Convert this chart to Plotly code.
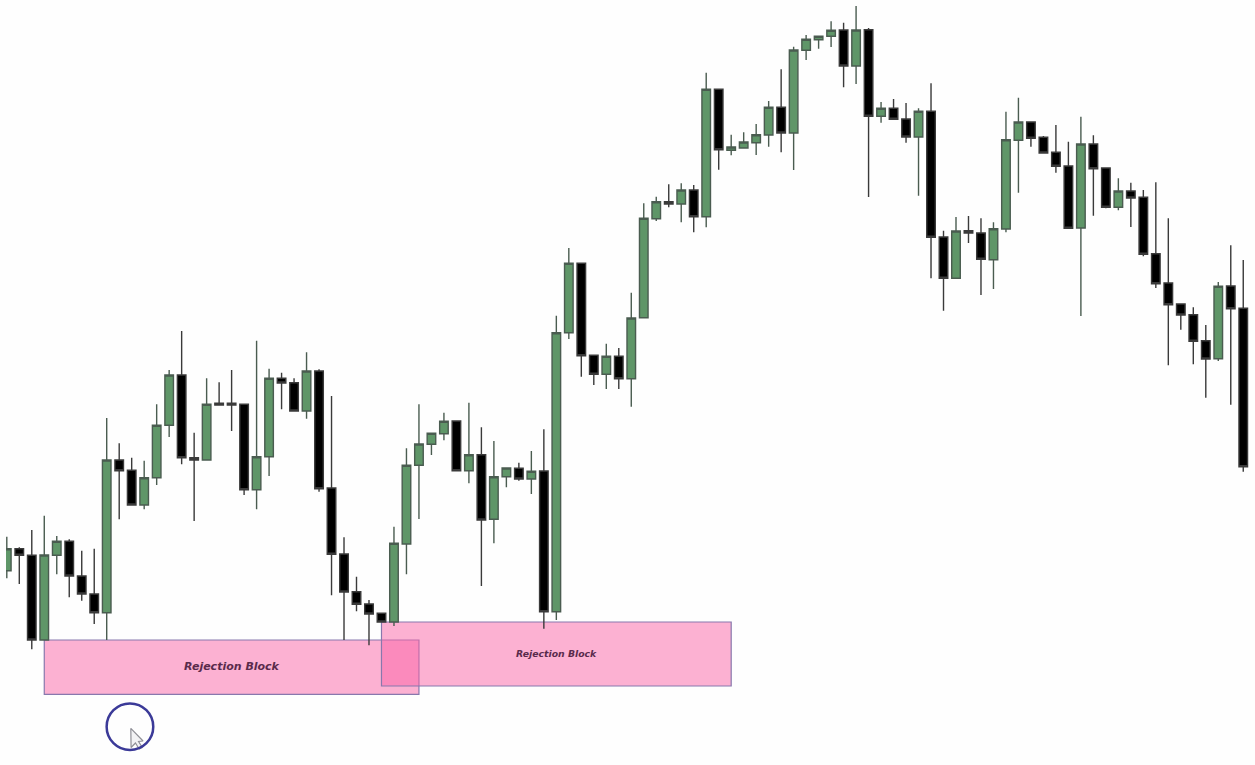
import numpy as np
import plotly.graph_objects as go

# Values, as rows counted from the top of the image; converted to price below.
candle_index = list(range(100))
high_rows = [536.7,547.3,530,515.7,536,539.3,550.7,548.7,418,443.3,457.7,460.7,404.3,370,331,432.7,378.3,382.3,370,404.3,
             340.7,368.7,372.7,378.3,352.3,369.3,396,537.3,576.7,600,613.3,526.7,448.3,404.3,432.7,412.7,421,402.7,427.3,441,
             467.7,462.7,451,429.3,315.7,248,263.3,355.3,343.7,348,292.7,203.3,196.7,184.3,183.3,185,72.7,89.3,134.7,132.3,
             124,101,69.3,46.7,35,35.7,21.3,22.7,4,28,102,99,103,108.3,83.3,230.7,217,216,218.3,222.3,
             111.7,97.7,121.3,136,125,141.7,116.7,135.3,168,178.3,182.7,190,182.3,218.3,304,307.3,325,282,245.3,260]
top_rows = [548.7,548.7,555.3,555,541.3,541.3,576,594,460,460,470.3,477.7,425.3,375,375,457.7,404.3,403.3,403.3,404.3,
            456.7,378.3,378.3,382.7,371,371,488,554,591.7,604,613.3,543.3,465.3,444,433.3,421.3,421,454.7,454.7,476.7,
            468,468.3,471.3,471,332.7,263.3,263.3,355.3,356.3,356.3,318,218.3,201.7,201.7,190,190,89.3,89.3,147,142,
            134.7,107.3,107.3,50,39.3,36.3,30.3,30,30,29.7,108.3,108.3,119,111.3,111.3,237,231,230.7,233,228.7,
            139.7,122,122,137.3,152.3,166,144,144,168,191,191,197.3,253.7,283,304,314.7,340.7,286.3,286,308.3]
bottom_rows = [570.7,555.3,640,640,555.3,576,594,612.7,612.7,470.7,505,505,477.7,425.3,457.7,460,460,405,405,489.7,
               489.7,456.7,383,411,411,488.7,554.3,592,604.3,614,622,622,544,465.3,444.3,433.7,470.7,470.7,520,519.3,
               476.7,479,479,611.7,611.7,332.7,355.7,374.3,374.3,378.7,378.7,317.7,218.7,204,204,216.7,216.7,149.7,150.3,148,
               142.7,135,133,133,50.3,39.7,36.3,66,66,116.3,116.3,119.3,137,137,237.3,278.3,278.3,233,259.3,259.7,
               229,140.3,138.3,153,166.3,228.3,228,168.7,207.3,207.3,198,254.3,283.7,304.7,315,341.3,359,358.7,308.7,466.7]
low_rows = [578.3,584,649.3,640,574.3,597.3,600.7,624,640,519.3,505,509.3,485,437,464.3,521,460,405,431,495,
            509.3,476,409.3,411,418.7,491.7,595.3,640,611.3,645.3,622,626,574.3,519,455,440.3,470.7,483.3,586,543.3,
            487.3,480.7,494,628.7,620,339,376.7,385,389,389,406.7,318,221,207.3,222.3,232.3,227.3,169.7,155.3,148,
            155,146.7,152.3,170,60,48.7,47,87.3,84,197,122.7,119.3,142.7,195.7,278.3,310.8,278.3,243,295,289,
            232.3,192.7,146.7,153,172.7,228.3,316,215.7,208.3,210.3,227,256.3,288,365.3,329.7,364.3,397.7,361,404.7,471.7]
green_candles = [0,3,4,8,11,12,13,16,20,21,24,31,32,33,34,35,37,39,40,42,44,45,48,50,51,52,54,56,58,59,60,61,63,64,65,66,68,70,73,76,79,80,81,86,89,97]

zone_start = [3, 30]
zone_end = [33, 58]
zone_top_rows = [640, 622]
zone_bottom_rows = [694.3, 686]
zone_label = ["Rejection Block", "Rejection Block"]
zone_label_size = [11, 9.3]

IMG_H = 765
to_price = lambda rows: IMG_H - np.asarray(rows, dtype=float)
high, low, top, bottom = map(to_price, (high_rows, low_rows, top_rows, bottom_rows))
is_green = np.isin(candle_index, green_candles)
open_ = np.where(is_green, bottom, top)
close = np.where(is_green, top, bottom)

fig = go.Figure()
fig.add_trace(go.Candlestick(
    x=candle_index, open=open_, high=high, low=low, close=close,
    increasing=dict(fillcolor="#5f9668", line=dict(color="#4a5c50", width=1.4)),
    decreasing=dict(fillcolor="#000000", line=dict(color="#3a3a3a", width=1.4)),
    whiskerwidth=0, showlegend=False, hoverinfo="skip",
))

shapes = []
annotations = []
for x0, x1, t, b, label, size in zip(zone_start, zone_end, zone_top_rows, zone_bottom_rows, zone_label, zone_label_size):
    shapes.append(dict(type="rect", layer="below", xref="x", yref="y", x0=x0, x1=x1, y0=IMG_H - t, y1=IMG_H - b,
                       fillcolor="rgba(249,100,165,0.5)", line=dict(color="#8878ad", width=1.2)))
    annotations.append(dict(x=(x0 + x1) / 2, y=IMG_H - (t + b) / 2 + 1, xref="x", yref="y", text=label, showarrow=False,
                            font=dict(family="DejaVu Sans", size=size, color="#5a2b4c", weight="bold", style="italic")))

# Cursor marker (circle + arrow pointer)
circle_x, circle_r_x = 9.86, 1.866
circle_y, circle_r_y = IMG_H - 726.7, 23.3
shapes.append(dict(type="circle", xref="x", yref="y", x0=circle_x - circle_r_x, x1=circle_x + circle_r_x,
                   y0=circle_y - circle_r_y, y1=circle_y + circle_r_y, line=dict(color="#3b3a98", width=2.5)))
cursor_x = [9.93, 9.95, 10.3, 10.6, 10.85, 10.55, 10.91, 9.93]
cursor_y = [IMG_H - r for r in [728.3, 747.5, 743, 749, 747.5, 741.5, 741, 728.3]]
fig.add_trace(go.Scatter(x=cursor_x, y=cursor_y, mode="lines", fill="toself", fillcolor="#f2f2f4",
                         line=dict(color="#8f8f96", width=1.2), showlegend=False, hoverinfo="skip"))

fig.update_layout(
    width=1255, height=765, autosize=False,
    margin=dict(l=6, r=6, t=6, b=0),
    paper_bgcolor="#fefefe", plot_bgcolor="#fefefe",
    boxgap=0.02,
    shapes=shapes, annotations=annotations, showlegend=False,
    xaxis=dict(range=[-0.064, 99.46], visible=False, rangeslider=dict(visible=False), fixedrange=True),
    yaxis=dict(range=[0, 759], visible=False, fixedrange=True),
)
fig.write_html("out.html", config=dict(displayModeBar=False),
               post_script="document.body.style.margin='0';document.documentElement.style.background='#fefefe';document.body.style.overflow='hidden';")
